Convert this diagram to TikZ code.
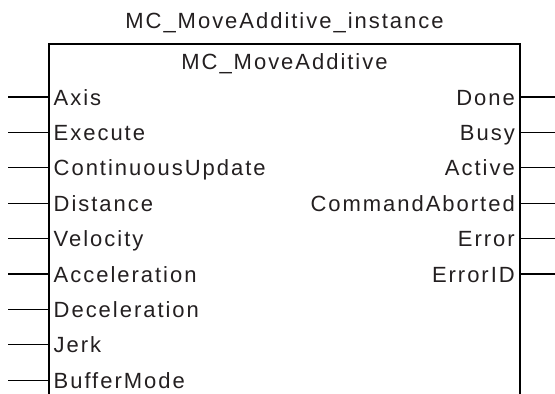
\documentclass[tikz,border=0pt]{standalone}
\usepackage{fontspec}
\setmainfont{Liberation Sans}[LetterSpace=9]
\usetikzlibrary{positioning}
\definecolor{fb-text}{HTML}{231F20}

\begin{document}
\begin{tikzpicture}[x=1pt,y=-1pt,
    lbl/.style={font=\fontsize{22}{26}\selectfont,inner sep=0pt,text=fb-text},
    pinline/.style={line width=1.2pt,black}]
  \useasboundingbox (0,0) rectangle (555,394);
  % block outline, open at the bottom
  \coordinate (bl) at (49,394); \coordinate (tl) at (49,44);
  \coordinate (tr) at (520,44); \coordinate (br) at (520,394);
  \draw[pinline] (bl)--(tl)--(tr)--(br);
  \node[lbl,anchor=base] (inst) at (284.5,28){MC\_MoveAdditive\_instance};
  \node[lbl,anchor=base] (fbname) at (284.5,69){MC\_MoveAdditive};
  % inputs
  \foreach \name [count=\i from 0] in {Axis,Execute,ContinuousUpdate,Distance,Velocity,Acceleration,Deceleration,Jerk,BufferMode}{
    \node[lbl,anchor=base west] (in\i) at (53.5,105+35.4*\i){\name};
    \coordinate (inA\i) at (49,97+35.4*\i);
    \coordinate (inB\i) at (8,97+35.4*\i);
    \draw[pinline] (inA\i)--(inB\i);
  }
  % outputs
  \foreach \name [count=\i from 0] in {Done,Busy,Active,CommandAborted,Error,ErrorID}{
    \node[lbl,anchor=base east] (out\i) at (515,105+35.4*\i){\name};
    \coordinate (outA\i) at (520,97+35.4*\i);
    \coordinate (outB\i) at (555,97+35.4*\i);
    \draw[pinline] (outA\i)--(outB\i);
  }
\end{tikzpicture}
\end{document}
